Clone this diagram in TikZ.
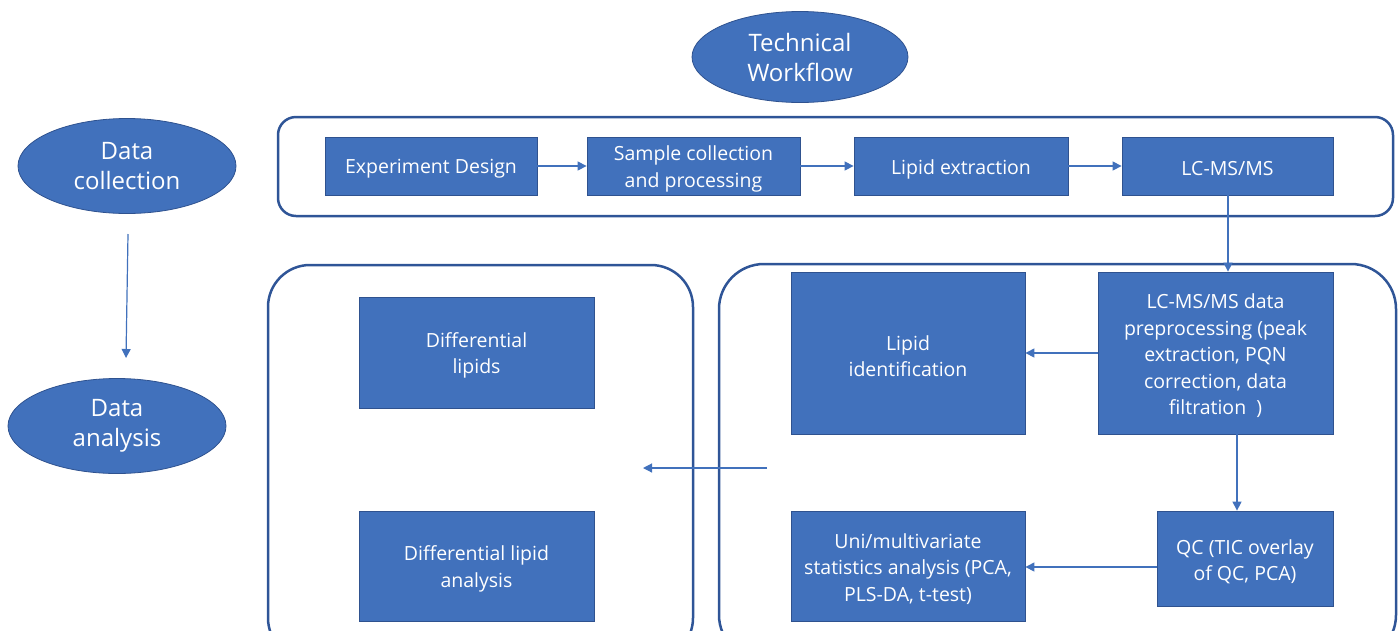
\documentclass[tikz,border=0pt]{standalone}
\usepackage{fontspec}
\setmainfont{Open Sans}
\usetikzlibrary{arrows.meta,shapes.geometric}
\definecolor{boxblue}{HTML}{4171BC}
\definecolor{edgeblue}{HTML}{2F528F}
\definecolor{framec}{HTML}{2F5597}
\tikzset{
  lbl/.style={text=white, align=center, inner sep=0pt, yshift=-3pt, font=\fontsize{19.5}{26.5}\selectfont},
  blk/.style={draw=edgeblue, line width=0.8pt, fill=boxblue, inner sep=0pt,
    label={[lbl]center:{#1}}},
  oval/.style={ellipse, draw=edgeblue, line width=0.8pt, fill=boxblue, text=white, align=center, inner sep=0pt,
    font=\fontsize{24}{30}\selectfont},
  frame/.style={draw=framec, line width=2.5pt},
  conn/.style={draw=boxblue, line width=1.2pt, -{Triangle[length=9pt,width=9pt]}}
}
\begin{document}
\begin{tikzpicture}[x=1pt,y=-1pt]
\useasboundingbox (0,0) rectangle (1400,630);
\clip (0,0) rectangle (1400,630);
% frames
\draw[frame, rounded corners=18pt] (278,117) rectangle (1393,216);
\draw[frame, rounded corners=42pt] (268,265) rectangle (693,660);
\draw[frame, rounded corners=45pt] (719,264) rectangle (1396,660);
% ellipses
\node[oval, minimum width=216pt, minimum height=91pt] (tw) at (800,57) {Technical\\Workflow};
\node[oval, minimum width=218pt, minimum height=95pt] (dc) at (127,166) {Data\\collection};
\node[oval, minimum width=218pt, minimum height=95pt] (da) at (117,426) {Data\\analysis};
\coordinate (dcs) at (128,234);
\coordinate (dae) at (126,358);
\draw[conn] (dcs) -- (dae);
% top row
\node[blk={Experiment Design}, minimum width=212pt, minimum height=58pt] (ed) at (431,166) {};
\node[blk={Sample collection\\and processing}, minimum width=213pt, minimum height=58pt] (sc) at (693.5,166) {};
\node[blk={Lipid extraction}, minimum width=214pt, minimum height=58pt] (le) at (961,166) {};
\node[blk={LC-MS/MS}, minimum width=211pt, minimum height=58pt] (lc) at (1227.5,166) {};
\draw[conn] (ed) -- (sc);
\draw[conn] (sc) -- (le);
\draw[conn] (le) -- (lc);
% right frame
\node[blk={LC-MS/MS data\\preprocessing (peak\\extraction, PQN\\correction, data\\filtration\ \ )}, minimum width=235pt, minimum height=162pt] (pp) at (1215.5,353) {};
\node[blk={Lipid\\identification}, minimum width=234pt, minimum height=162pt] (li) at (908,353) {};
\node[blk={QC (TIC overlay\\of QC, PCA)}, minimum width=176pt, minimum height=95pt] (qc) at (1245,558.5) {};
\node[blk={Uni/multivariate\\statistics analysis (PCA,\\PLS-DA, t-test)}, minimum width=234pt, minimum height=110pt] (um) at (908,566) {};
\draw[conn] (lc.south -| 1228,0) -- (pp.north -| 1228,0);
\draw[conn] (pp) -- (li);
\draw[conn] (pp.south -| 1237,0) -- (qc.north -| 1237,0);
\draw[conn] (qc.west |- 0,567) -- (um.east |- 0,567);
% left frame
\node[blk={Differential\\lipids}, minimum width=235pt, minimum height=111pt] (dl) at (476.5,352.5) {};
\node[blk={Differential lipid\\analysis}, minimum width=235pt, minimum height=110pt] (dla) at (476.5,566) {};
\coordinate (ms) at (767,468);
\coordinate (me) at (643,468);
\draw[conn] (ms) -- (me);
\end{tikzpicture}
\end{document}
